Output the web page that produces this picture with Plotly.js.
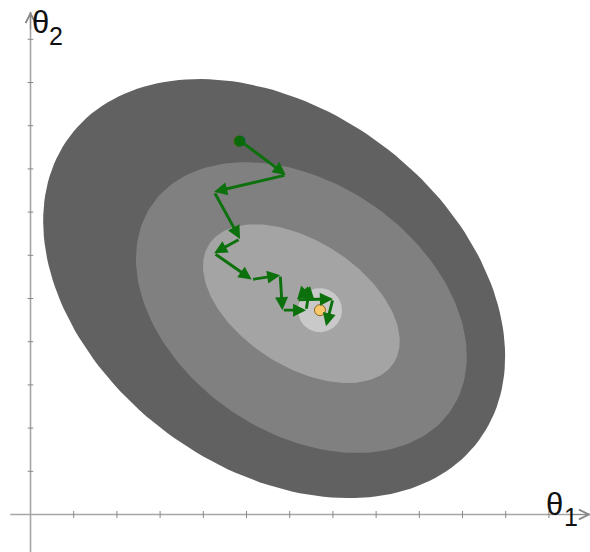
<!DOCTYPE html>
<html>
<head>
<meta charset="utf-8">
<script src="https://cdn.plot.ly/plotly-3.0.1.min.js"></script>
<style>html,body{margin:0;padding:0;background:#fff;}#chart{width:590px;height:552px;}</style>
</head>
<body>
<div id="chart"></div>
<script>
// ---- data ----
const xTicks = [1, 2, 3, 4, 5, 6, 7, 8, 9, 10, 11, 12];
const yTicks = [1, 2, 3, 4, 5, 6, 7, 8, 9, 10, 11];
const contourNames = ['level 3', 'level 2', 'level 1', 'level 0'];
const contourCx = [5.64, 6.27, 6.27, 6.70];
const contourCy = [5.23, 4.79, 4.88, 4.73];
const contourA = [5.90, 4.20, 2.54, 0.51];
const contourB = [4.16, 2.89, 1.45, 0.51];
const contourAngle = [-36.6, -34.5, -32.7, 0];
const pathX = [4.83, 5.91, 4.25, 4.85, 4.25, 5.12, 5.78, 5.83, 6.38, 6.47, 6.17, 7.00, 6.84];
const pathY = [8.67, 7.86, 7.47, 6.38, 6.05, 5.44, 5.54, 4.73, 4.73, 5.29, 4.97, 4.99, 4.36];
const minimumX = [6.70];
const minimumY = [4.73];
const axisSymbol = 'θ';
const xSubscript = '1';
const ySubscript = '2';

// ---- styles ----
const fillColors = ['#616161', '#808080', '#a4a4a4', '#c9c9c9'];
const green = '#0c700c';
const axisGray = '#a6a6a6';
const labelFont = 'Liberation Sans, Arial, sans-serif';

function ellipsePoints(cx, cy, a, b, angDeg) {
  const th = angDeg * Math.PI / 180;
  const xs = [], ys = [];
  for (let d = 0; d <= 360; d += 2) {
    const t = d * Math.PI / 180;
    xs.push(cx + a * Math.cos(t) * Math.cos(th) - b * Math.sin(t) * Math.sin(th));
    ys.push(cy + a * Math.cos(t) * Math.sin(th) + b * Math.sin(t) * Math.cos(th));
  }
  return {xs, ys};
}

const traces = [];
contourNames.forEach((n, i) => {
  const p = ellipsePoints(contourCx[i], contourCy[i], contourA[i], contourB[i], contourAngle[i]);
  traces.push({
    type: 'scatter', mode: 'lines', name: n, x: p.xs, y: p.ys,
    fill: 'toself', fillcolor: fillColors[i], line: {width: 0, color: fillColors[i]},
    hoverinfo: 'skip'
  });
});

// axis ticks
traces.push({
  type: 'scatter', mode: 'markers', x: xTicks, y: xTicks.map(() => 0),
  marker: {symbol: 'line-ns', size: 5, line: {color: '#888', width: 1}},
  hoverinfo: 'skip'
});
traces.push({
  type: 'scatter', mode: 'markers', x: yTicks.map(() => 0), y: yTicks,
  marker: {symbol: 'line-ew', size: 4, line: {color: '#888', width: 1}},
  hoverinfo: 'skip'
});

// minimum
traces.push({
  type: 'scatter', mode: 'markers', x: minimumX, y: minimumY,
  marker: {size: 11, color: '#f8c96c', line: {color: '#8a6420', width: 1}},
  hoverinfo: 'skip'
});

const annotations = [];
for (let i = 1; i < pathX.length; i++) {
  annotations.push({
    x: pathX[i], y: pathY[i], ax: pathX[i - 1], ay: pathY[i - 1],
    xref: 'x', yref: 'y', axref: 'x', ayref: 'y',
    text: '', showarrow: true, arrowhead: 2, arrowsize: 0.9, arrowwidth: 2.9,
    arrowcolor: green, standoff: 0, startstandoff: 0
  });
}
// start point drawn on top of the path
annotations.push({
  x: pathX[0], y: pathY[0], xref: 'x', yref: 'y',
  text: '●', showarrow: false,
  font: {family: 'DejaVu Sans', size: 15, color: '#0a6a0a'}
});

// axis arrows
annotations.push({
  x: 0, y: 11.65, ax: 0, ay: 11.2, xref: 'x', yref: 'y', axref: 'x', ayref: 'y',
  text: '', showarrow: true, arrowhead: 5, arrowsize: 1.6, arrowwidth: 1.2, arrowcolor: '#888'
});
annotations.push({
  x: 12.97, y: 0, ax: 12.5, ay: 0, xref: 'x', yref: 'y', axref: 'x', ayref: 'y',
  text: '', showarrow: true, arrowhead: 5, arrowsize: 1.6, arrowwidth: 1.2, arrowcolor: '#888'
});
// axis labels (symbol + subscript)
function addLabel(x, y, txt, size) {
  annotations.push({
    x: x, y: y, xref: 'x', yref: 'y', xanchor: 'center', yanchor: 'middle',
    text: txt, showarrow: false,
    font: {family: labelFont, size: size, color: '#111'}
  });
}
addLabel(0.24, 11.38, axisSymbol, 31);
addLabel(0.60, 11.07, ySubscript, 25);
addLabel(12.14, 0.24, axisSymbol, 31);
addLabel(12.50, -0.05, xSubscript, 25);

const layout = {
  width: 590, height: 552,
  margin: {l: 0, r: 0, t: 0, b: 0, pad: 0},
  paper_bgcolor: '#fff', plot_bgcolor: '#fff',
  showlegend: false,
  xaxis: {range: [-0.706, 12.951], visible: false, fixedrange: true},
  yaxis: {range: [-0.868, 11.910], visible: false, fixedrange: true},
  shapes: [
    {type: 'line', xref: 'x', yref: 'y', x0: -0.47, x1: 12.95, y0: 0, y1: 0,
     line: {color: axisGray, width: 1.6}, layer: 'below'},
    {type: 'line', xref: 'x', yref: 'y', x0: 0, x1: 0, y0: -0.9, y1: 11.63,
     line: {color: axisGray, width: 1.6}, layer: 'below'}
  ],
  annotations: annotations
};

Plotly.newPlot('chart', traces, layout, {displayModeBar: false, staticPlot: true});
</script>
</body>
</html>
